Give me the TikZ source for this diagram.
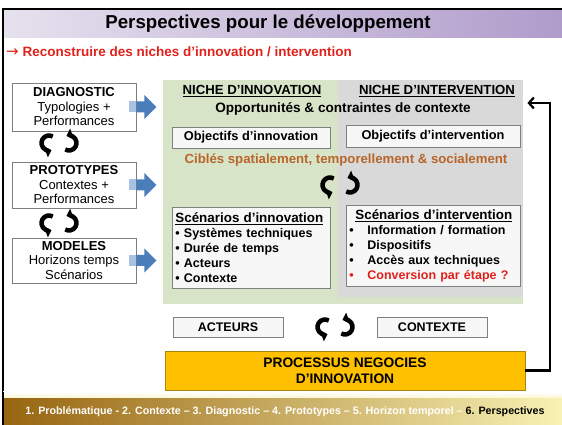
\documentclass[tikz,border=0pt]{standalone}
\usepackage{fontspec}
\setmainfont{Liberation Sans}
\newfontfamily\arrowfont{DejaVu Sans}
\usetikzlibrary{arrows.meta,calc,positioning}
\definecolor{NicheGreen}{HTML}{D8E4C8}
\definecolor{NicheGrey}{HTML}{D9D9D9}
\definecolor{BoxEdge}{HTML}{7F7F7F}
\definecolor{BoxFill}{HTML}{F7F7F7}
\definecolor{ArrowBlue}{HTML}{4A7EBB}
\definecolor{ArrowPale}{HTML}{A9C2E4}
\definecolor{TitleLight}{HTML}{E6E1EE}
\definecolor{TitleDark}{HTML}{B09CCB}
\definecolor{LeadRed}{HTML}{E0201B}
\definecolor{TargetBrown}{HTML}{B8652A}
\definecolor{ProcGold}{HTML}{FFC000}
\definecolor{ProcEdge}{HTML}{A88412}
\definecolor{FootDark}{HTML}{976510}
\definecolor{FootMid}{HTML}{D2B04A}
\definecolor{FootLight}{HTML}{F8F2B4}

\tikzset{turnpair/.pic={
    \draw[line width=4.5pt,-{Triangle[length=6pt,width=11pt]}] ([shift={(-10,0)}]60:7.5) arc[start angle=60,end angle=290,radius=7.5];
    \draw[line width=4.5pt,-{Triangle[length=6pt,width=11pt]}] ([shift={(10,0)}]-120:7.5) arc[start angle=-120,end angle=110,radius=7.5];
  }}

\begin{document}
\begin{tikzpicture}[x=1pt,y=1pt,
    font=\bfseries,
    card/.style={draw=BoxEdge,line width=0.8pt,fill=BoxFill,align=center,inner sep=2pt},
    stage/.style={card,fill=white,minimum width=124pt,font=\mdseries\fontsize{13}{14.5}\selectfont},
    head/.style={font=\bfseries\fontsize{13.2}{15}\selectfont},
    scen/.style={card,minimum height=81pt,align=left,anchor=north west,font=\bfseries\fontsize{12.5}{15}\selectfont},
    feedback/.style={line width=2.2pt,-{Straight Barb[length=5pt,width=11pt]}}
  ]
  \useasboundingbox (0,0) rectangle (562,425);

  % title band
  \shade[left color=TitleLight,right color=TitleDark] (3,387) rectangle (562,416);
  \draw[line width=2pt] (3,416) -- (562,416);
  \draw[line width=2pt] (3,417) -- (3,0);
  \node[font=\bfseries\fontsize{18.7}{22}\selectfont] (title) at (268,401) {Perspectives pour le développement};
  \node[anchor=west,text=LeadRed,font=\bfseries\fontsize{13.5}{15}\selectfont,inner sep=0pt] (lead) at (6,373) {{\arrowfont\mdseries\fontsize{15}{15}\selectfont →} Reconstruire des niches d’innovation / intervention};

  % niches
  \node[fill=NicheGreen,minimum width=360pt,minimum height=224pt,anchor=north west,inner sep=0pt] (innozone) at (163,345) {};
  \node[fill=NicheGrey,minimum width=185pt,minimum height=217pt,anchor=north west,inner sep=0pt] (intzone) at (338,345) {};
  \node[head] (innohead) at (252,334) {\underline{NICHE D’INNOVATION}};
  \node[head] (inthead) at (437,334) {\underline{NICHE D’INTERVENTION}};
  \node[font=\bfseries\fontsize{13.6}{16}\selectfont] (context) at (343,316) {Opportunités \& contraintes de contexte};
  \node[card,font=\bfseries\fontsize{12.8}{15}\selectfont,minimum width=158pt,minimum height=21pt] (innogoal) at (251,287.5) {Objectifs d’innovation};
  \node[card,font=\bfseries\fontsize{12.8}{15}\selectfont,minimum width=174pt,minimum height=22pt] (intgoal) at (433,289) {Objectifs d’intervention};
  \node[text=TargetBrown,font=\bfseries\fontsize{13.2}{15}\selectfont] (target) at (346,265) {Ciblés spatialement, temporellement \& socialement};
  \pic at (340,240) {turnpair};
  \node[scen,minimum width=158pt,text width=152pt] (innoscen) at (172,218) {\underline{\fontsize{13.4}{15}\selectfont Scénarios d’innovation}\\
    \textbullet\ Systèmes techniques\\
    \textbullet\ Durée de temps\\
    \textbullet\ Acteurs\\
    \textbullet\ Contexte};
  \node[scen,minimum width=174pt,text width=168pt] (intscen) at (346,220) {\hspace*{6pt}\underline{\fontsize{13.4}{15}\selectfont Scénarios d’intervention}\\
    \makebox[18pt][l]{\textbullet}Information / formation\\
    \makebox[18pt][l]{\textbullet}Dispositifs\\
    \makebox[18pt][l]{\textbullet}Accès aux techniques\\
    \textcolor{LeadRed}{\makebox[18pt][l]{\textbullet}Conversion par étape ?}};

  % sources
  \node[stage,minimum height=48pt] (diag) at (74,318) {\textbf{DIAGNOSTIC}\\Typologies +\\Performances};
  \node[stage,minimum height=46pt] (proto) at (74,240) {\textbf{PROTOTYPES}\\Contextes +\\Performances};
  \node[stage,minimum height=45pt] (model) at (74,164.5) {\textbf{MODELES}\\Horizons temps\\Scénarios};
  \pic at (59,282) {turnpair};
  \pic at (59,202) {turnpair};
  \foreach \b in {diag,proto,model} {
    \fill[ArrowPale] ($(\b.east)+(-7,-5.5)$) rectangle ($(\b.east)+(0,5.5)$);
    \fill[ArrowBlue] ($(\b.east)+(0,-5.5)$) -- ++(8,0) -- ++(0,-6.5) -- ++(12,12) -- ++(-12,12) -- ++(0,-6.5) -- ++(-8,0) -- cycle;
  }

  % negotiation
  \node[card,minimum width=110pt,minimum height=20pt,font=\bfseries\fontsize{12.5}{14}\selectfont] (actors) at (228,98) {ACTEURS};
  \node[card,minimum width=110pt,minimum height=20pt,font=\bfseries\fontsize{12.5}{14}\selectfont] (ctx) at (432,98) {CONTEXTE};
  \pic at (335,98) {turnpair};
  \node[draw=ProcEdge,line width=0.8pt,fill=ProcGold,minimum width=360pt,minimum height=39pt,align=center,font=\bfseries\fontsize{13.8}{16}\selectfont] (process) at (345,54.5) {PROCESSUS NEGOCIES\\D’INNOVATION};
  \coordinate (loopback) at (550,322);
  \draw[feedback] (process.east) -| (loopback) -- ([xshift=4pt]intzone.east |- loopback);

  % footer
  \shade[left color=FootDark,middle color=FootMid,right color=FootLight] (3,0) rectangle (562,27);
  \shade[top color=white,bottom color=FootLight!60] (3,27) rectangle (562,33);
  \draw[line width=2pt] (3,33) -- (3,0);
  \node[text=white,font=\bfseries\fontsize{10.7}{12}\selectfont] (trail) at (285,13) {1. Problématique - 2. Contexte – 3. Diagnostic – 4. Prototypes – 5. Horizon temporel – \textcolor{black}{6. Perspectives}};
\end{tikzpicture}
\end{document}
